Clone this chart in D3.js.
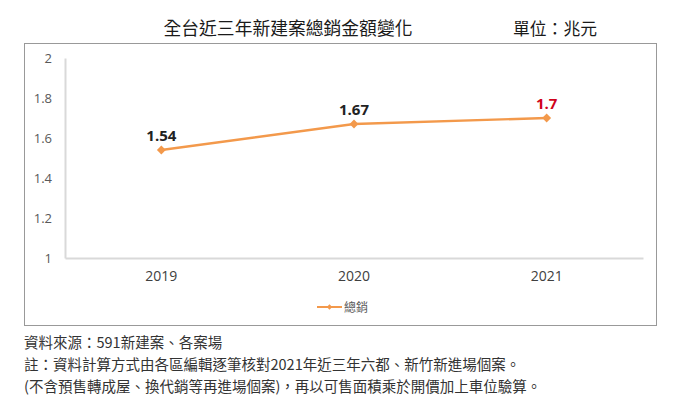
<!DOCTYPE html>
<html><head><meta charset="utf-8">
<script src="https://cdn.jsdelivr.net/npm/d3@7"></script>
<style>body{margin:0;background:#fff;font-family:"Noto Sans CJK TC","Noto Sans",sans-serif;}</style>
</head><body>
<svg id="c" width="687" height="419"></svg>
<script>
const years = ["2019","2020","2021"];
const totals = [1.54, 1.67, 1.7];
const yTicks = [1, 1.2, 1.4, 1.6, 1.8, 2];
const yTickLabels = ["1","1.2","1.4","1.6","1.8","2"];
const seriesName = "總銷";
const title = "全台近三年新建案總銷金額變化";
const unit = "單位：兆元";
const notes = ["資料來源：591新建案、各案場",
  "註：資料計算方式由各區編輯逐筆核對2021年近三年六都、新竹新進場個案。",
  "(不含預售轉成屋、換代銷等再進場個案)，再以可售面積乘於開價加上車位驗算。"];

const svg = d3.select("#c");
const orange = "#f3994b";
const x = d3.scaleBand().domain(years).range([65, 643]);
const y = d3.scaleLinear().domain([1, 2]).range([258, 58]);

svg.append("text").attr("x", 288).attr("y", 35).attr("text-anchor","middle")
  .attr("font-size", 17.8).attr("font-weight",400).attr("fill","#1a1a1a").text(title);
svg.append("text").attr("x", 555).attr("y", 35).attr("text-anchor","middle")
  .attr("font-size", 16.8).attr("font-weight",400).attr("fill","#1a1a1a").text(unit);

svg.append("rect").attr("x",24.5).attr("y",43.5).attr("width",632).attr("height",282)
  .attr("fill","none").attr("stroke","#999").attr("stroke-width",1);

// y axis
const ya = svg.append("g").attr("transform","translate(65,0)")
  .call(d3.axisLeft(y).tickValues(yTicks).tickFormat((d,i)=>yTickLabels[i]).tickSize(0).tickPadding(13));
ya.select(".domain").attr("stroke","#d9d9d9").attr("stroke-width",2);
ya.selectAll("text").attr("font-family","'Open Sans',sans-serif").attr("font-size",13).attr("fill","#595959");

// x axis
const xa = svg.append("g").attr("transform","translate(0,258)")
  .call(d3.axisBottom(x).tickSize(0).tickPadding(13));
xa.select(".domain").attr("stroke","#d9d9d9").attr("stroke-width",2);
xa.selectAll("text").attr("font-family","'Open Sans',sans-serif").attr("font-size",14).attr("fill","#404040");

const cx = d => x(d) + x.bandwidth()/2;
const pts = years.map((yr,i)=>[cx(yr), y(totals[i])]);
svg.append("path").attr("d", d3.line()(pts)).attr("fill","none").attr("stroke",orange).attr("stroke-width",2.4);
svg.selectAll(".m").data(pts).join("path")
  .attr("d", d3.symbol(d3.symbolDiamond2, 50)())
  .attr("transform", d=>`translate(${d[0]},${d[1]})`).attr("fill",orange);

svg.selectAll(".lbl").data(totals).join("text")
  .attr("x",(d,i)=>cx(years[i])).attr("y",(d,i)=>y(d)-9)
  .attr("text-anchor","middle").attr("font-family","'Open Sans',sans-serif").attr("font-weight","bold")
  .attr("font-size",15).attr("fill",(d,i)=>i===years.length-1?"#d0021b":"#222").text(d=>d);

// legend
svg.append("line").attr("x1",317).attr("x2",342).attr("y1",307).attr("y2",307).attr("stroke",orange).attr("stroke-width",2);
svg.append("path").attr("d", d3.symbol(d3.symbolDiamond2, 18)()).attr("transform","translate(329.5,307)").attr("fill",orange);
svg.append("text").attr("x",344).attr("y",311.5).attr("font-size",12).attr("fill","#595959").text(seriesName);

svg.selectAll(".note").data(notes).join("text")
  .attr("x",24).attr("y",(d,i)=>348+i*22).attr("font-size",14.5).attr("fill","#333").text(d=>d);
</script>
</body></html>
